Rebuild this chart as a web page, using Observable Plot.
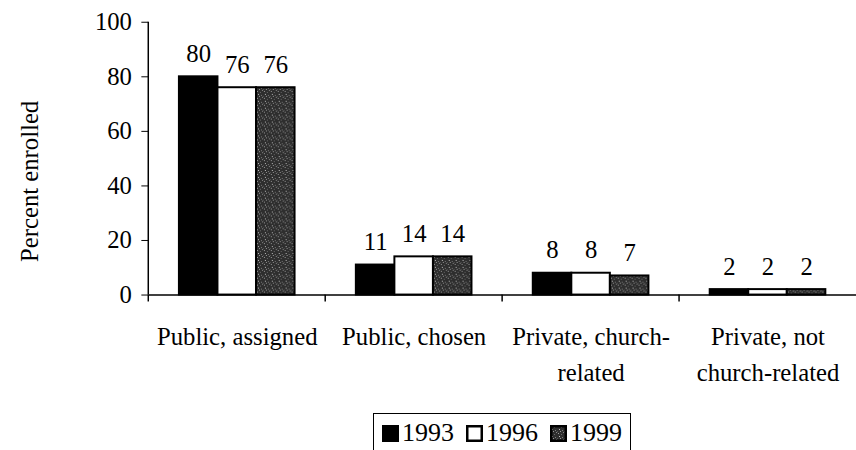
<!DOCTYPE html>
<html><head><meta charset="utf-8">
<script src="https://cdn.jsdelivr.net/npm/d3@7"></script>
<script src="https://cdn.jsdelivr.net/npm/@observablehq/plot@0.6"></script>
<style>
body{margin:0;background:#fff;font-family:"Liberation Serif",Tinos,"Times New Roman",Times,"Nimbus Roman","DejaVu Serif",serif;color:#000;}
#wrap{width:856px;height:450px;overflow:hidden;position:relative;background:#fff;}
#legend{position:absolute;top:413px;left:373px;display:flex;align-items:center;gap:12px;border:1.5px solid #000;border-bottom:none;padding:6px 8px 14px 8px;font-size:26px;line-height:26px;}
#legend .item{display:flex;align-items:center;gap:3px;}
svg text{font-family:"Liberation Serif",Tinos,"Times New Roman",Times,"Nimbus Roman","DejaVu Serif",serif;}
</style></head><body><div id="wrap"></div>
<script>
const categories = ["Public, assigned", "Public, chosen", "Private, church-related", "Private, not church-related"];
const categoryLabels = ["Public, assigned", "Public, chosen", "Private, church-\nrelated", "Private, not\nchurch-related"];
const years = ["1993", "1996", "1999"];
const v1993 = [80, 11, 8, 2];
const v1996 = [76, 14, 8, 2];
const v1999 = [76, 14, 7, 2];
const yTicks = [0, 20, 40, 60, 80, 100];
const yTitle = "Percent enrolled";

const series = [v1993, v1996, v1999];
const data = categories.flatMap((c, i) => years.map((yr, j) => ({category: c, year: yr, value: series[j][i]})));
const colorRange = ["#000000", "#ffffff", "url(#stipple)"];

const plot = Plot.plot({
  width: 866, height: 405,
  marginLeft: 150, marginRight: 0, marginTop: 22, marginBottom: 107,
  style: {fontSize: "25px", color: "#000", background: "#fff", overflow: "visible"},
  fx: {domain: categories, padding: 0, label: null, axis: null},
  x: {domain: years, paddingInner: 0, paddingOuter: 0.74, axis: null},
  y: {domain: [0, 100], axis: null},
  color: {domain: years, range: colorRange},
  marks: [
    Plot.barY(data, {fx: "category", x: "year", y: "value", fill: "year", stroke: "#000", strokeWidth: 2}),
    Plot.ruleY([0], {stroke: "#000", strokeWidth: 1.5}),
    Plot.text(data, {fx: "category", x: "year", y: "value", text: d => String(d.value), dy: -23, fontSize: 25, fill: "#000"}),
    Plot.axisY({ticks: yTicks, tickSize: 7, tickPadding: 10, fontSize: 25, label: null, facetAnchor: "left", stroke: "#000", fill: "#000"}),
    Plot.text(categories, {fx: d => d, text: (d, i) => categoryLabels[i], frameAnchor: "bottom", lineAnchor: "top", dy: 25, lineHeight: 1.45, fontSize: 25, fill: "#000"}),
    Plot.text([yTitle], {fx: () => categories[0], text: d => d, frameAnchor: "left", textAnchor: "middle", rotate: -90, dx: -120, dy: 23, fontSize: 25, fill: "#000"})
  ]
});

document.getElementById("wrap").appendChild(plot);
const svg = d3.select(plot);
// stipple pattern for 1999
const defs = svg.insert("defs", ":first-child");
const pat = defs.append("pattern").attr("id", "stipple").attr("patternUnits", "userSpaceOnUse").attr("width", 7).attr("height", 7);
pat.append("rect").attr("width", 7).attr("height", 7).attr("fill", "#2e2e2e");
[[1,1,"#9a9a9a"],[4,2,"#6a6a6a"],[2,4,"#bdbdbd"],[5,5,"#7d7d7d"],[0,6,"#555"],[6,0,"#888"],[3,6,"#999"]].forEach(([px,py,c]) => pat.append("rect").attr("x", px).attr("y", py).attr("width", 1).attr("height", 1).attr("fill", c));

const fx = plot.scale("fx"), y = plot.scale("y");
const x0 = fx.range[0];
svg.append("line").attr("x1", x0).attr("x2", x0).attr("y1", y.apply(100)).attr("y2", y.apply(0)).attr("stroke", "#000").attr("stroke-width", 1.5);
categories.forEach(c => {
  const bx = fx.apply(c);
  svg.append("line").attr("x1", bx).attr("x2", bx).attr("y1", y.apply(0)).attr("y2", y.apply(0) + 7).attr("stroke", "#000").attr("stroke-width", 1.5);
});

// legend
const legend = document.createElement("div");
legend.id = "legend";
years.forEach((yr, j) => {
  const item = document.createElement("div");
  item.className = "item";
  const sw = d3.create("svg").attr("width", 17).attr("height", 17);
  sw.append("rect").attr("x", 1.25).attr("y", 1.25).attr("width", 14.5).attr("height", 14.5)
    .attr("fill", colorRange[j]).attr("stroke", "#000").attr("stroke-width", 2.5);
  item.appendChild(sw.node());
  const t = document.createElement("span");
  t.textContent = yr;
  item.appendChild(t);
  legend.appendChild(item);
});
document.getElementById("wrap").appendChild(legend);
</script>
</body></html>
